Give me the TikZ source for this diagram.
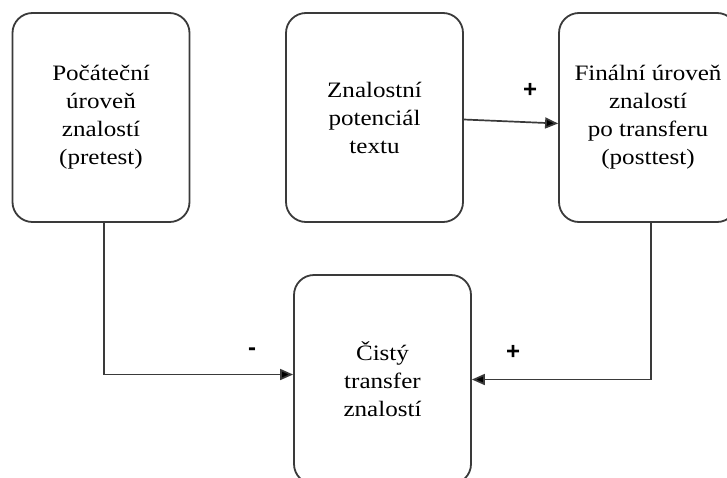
\documentclass[tikz,border=0pt]{standalone}
\usepackage{fontspec}
\setmainfont[FakeStretch=1.14]{Liberation Serif}
\newfontfamily\signfont{Liberation Sans}
\usetikzlibrary{arrows.meta}
\definecolor{boxline}{HTML}{3A3A3A}
\tikzset{
  box/.style={draw=boxline, line width=1.8pt, rounded corners=20pt, minimum width=177pt, minimum height=209pt, align=center, font=\fontsize{22}{28}\selectfont, inner sep=0pt},
  arr/.style={draw=boxline, line width=1.7pt, -{Triangle[length=13pt,width=11pt,fill=black]}},
  sign/.style={font=\signfont\bfseries\fontsize{24}{24}\selectfont, inner sep=0pt}
}
\begin{document}
\begin{tikzpicture}[x=1pt,y=-1pt]
\useasboundingbox (0,0) rectangle (727,477);
\clip (0,0) rectangle (727,477);
\fill[white] (0,0) rectangle (727,477);
\node[box] (b1) at (101,117.5) {Počáteční\\úroveň\\znalostí\\(pretest)};
\node[box] (b2) at (374.5,117.5) {Znalostní\\potenciál\\textu};
\node[box, minimum width=178pt] (b3) at (648,117.5) {Finální úroveň\\znalostí\\po transferu\\(posttest)};
\node[box] (b4) at (382.5,379.5) {Čistý\\transfer\\znalostí};
\draw[arr] ([yshift=-2pt]b2.east) -- ([yshift=-6pt]b3.west);
\draw[arr] ([xshift=3pt]b1.south) |- ([yshift=5pt]b4.west);
\draw[arr] ([xshift=3pt]b3.south) |- (b4.east);
\node[sign] (m1) at (252,352) {-};
\node[sign] (p1) at (513,352) {+};
\node[sign] (p2) at (530,90) {+};
\end{tikzpicture}
\end{document}
